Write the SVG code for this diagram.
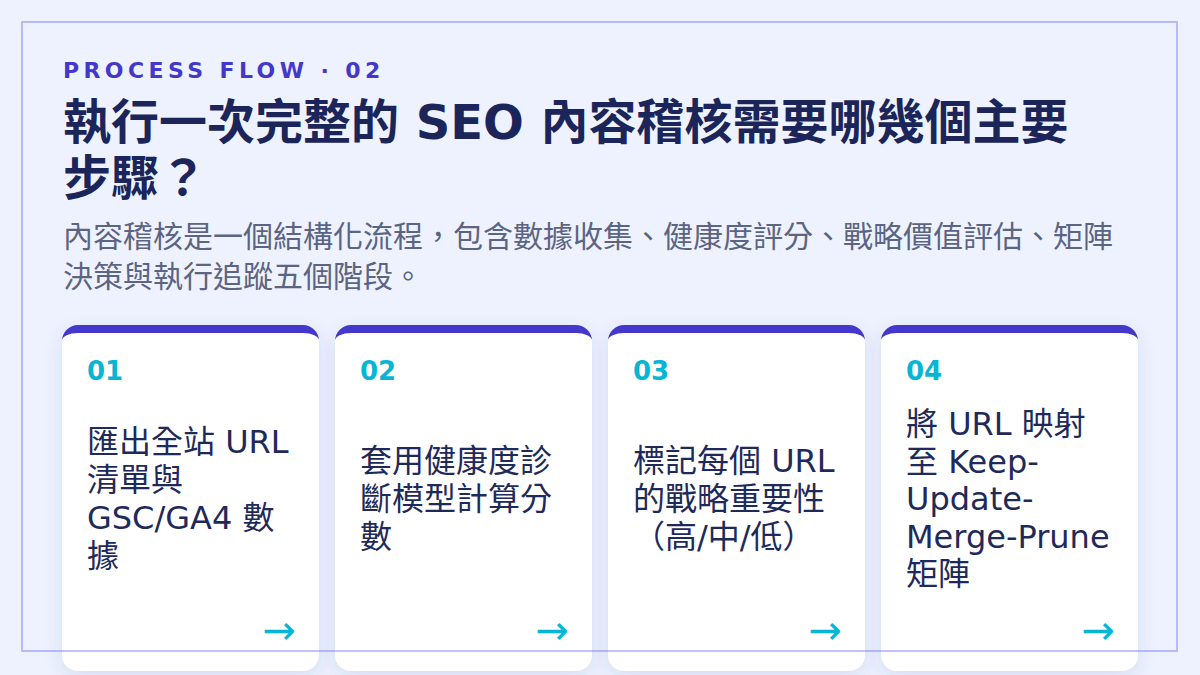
<svg xmlns="http://www.w3.org/2000/svg" width="1200" height="675" viewBox="0 0 1200 675">
  <defs>
    <filter id="shadow" x="-20%" y="-20%" width="140%" height="140%">
      <feDropShadow dx="0" dy="6" stdDeviation="9" flood-color="#3b3f9e" flood-opacity="0.12"/>
    </filter>
    <style>
      .eyebrow { font-family: "DejaVu Sans", "Noto Sans CJK TC", sans-serif; font-weight: 700; font-size: 22px; letter-spacing: 4.4px; fill: #4338ca; }
      .title { font-family: "DejaVu Sans", "Noto Sans CJK TC", sans-serif; font-weight: 700; font-size: 48px; fill: #1b2559; }
      .sub { font-family: "DejaVu Sans", "Noto Sans CJK TC", sans-serif; font-size: 30px; fill: #5b6483; }
      .card { fill: #ffffff; }
      .band { fill: #4338ca; }
      .num { font-family: "DejaVu Sans", sans-serif; font-weight: 700; font-size: 26px; fill: #06b6d4; }
      .body { font-family: "DejaVu Sans", "Noto Sans CJK TC", sans-serif; font-size: 32px; fill: #1e2a5a; }
      .arrow { font-family: "DejaVu Sans", sans-serif; font-size: 40px; fill: #06b6d4; text-anchor: end; }
      .frame { fill: none; stroke: #6366f1; stroke-opacity: 0.4; stroke-width: 2; }
    </style>
  </defs>
  <rect width="1200" height="675" fill="#eef2fe"/>

  <g id="header">
    <text class="eyebrow" x="63" y="78">PROCESS FLOW · 02</text>
    <text class="title" x="63" y="139">執行一次完整的 SEO 內容稽核需要哪幾個主要</text>
    <text class="title" x="63" y="195">步驟？</text>
    <text class="sub" x="63" y="247">內容稽核是一個結構化流程，包含數據收集、健康度評分、戰略價值評估、矩陣</text>
    <text class="sub" x="63" y="287">決策與執行追蹤五個階段。</text>
  </g>

  <g id="step1">
    <g filter="url(#shadow)">
      <rect class="card" x="62" y="325" width="257" height="346" rx="16"/>
    </g>
    <path class="band" d="M62,341 A16,16 0 0 1 78,325 H303 A16,16 0 0 1 319,341 A16,8 0 0 0 303,333 H78 A16,8 0 0 0 62,341 Z"/>
    <text class="num" x="87" y="380">01</text>
    <text class="body" x="87" y="453">匯出全站 URL</text>
    <text class="body" x="87" y="491">清單與</text>
    <text class="body" x="87" y="529">GSC/GA4 數</text>
    <text class="body" x="87" y="567">據</text>
    <text class="arrow" x="296" y="644">→</text>
  </g>

  <g id="step2">
    <g filter="url(#shadow)">
      <rect class="card" x="335" y="325" width="257" height="346" rx="16"/>
    </g>
    <path class="band" d="M335,341 A16,16 0 0 1 351,325 H576 A16,16 0 0 1 592,341 A16,8 0 0 0 576,333 H351 A16,8 0 0 0 335,341 Z"/>
    <text class="num" x="360" y="380">02</text>
    <text class="body" x="360" y="472">套用健康度診</text>
    <text class="body" x="360" y="510">斷模型計算分</text>
    <text class="body" x="360" y="548">數</text>
    <text class="arrow" x="569" y="644">→</text>
  </g>

  <g id="step3">
    <g filter="url(#shadow)">
      <rect class="card" x="608" y="325" width="257" height="346" rx="16"/>
    </g>
    <path class="band" d="M608,341 A16,16 0 0 1 624,325 H849 A16,16 0 0 1 865,341 A16,8 0 0 0 849,333 H624 A16,8 0 0 0 608,341 Z"/>
    <text class="num" x="633" y="380">03</text>
    <text class="body" x="633" y="472">標記每個 URL</text>
    <text class="body" x="633" y="510">的戰略重要性</text>
    <text class="body" x="633" y="548">（高/中/低）</text>
    <text class="arrow" x="842" y="644">→</text>
  </g>

  <g id="step4">
    <g filter="url(#shadow)">
      <rect class="card" x="881" y="325" width="257" height="346" rx="16"/>
    </g>
    <path class="band" d="M881,341 A16,16 0 0 1 897,325 H1122 A16,16 0 0 1 1138,341 A16,8 0 0 0 1122,333 H897 A16,8 0 0 0 881,341 Z"/>
    <text class="num" x="906" y="380">04</text>
    <text class="body" x="906" y="435">將 URL 映射</text>
    <text class="body" x="906" y="472.5">至 Keep-</text>
    <text class="body" x="906" y="510">Update-</text>
    <text class="body" x="906" y="547.5">Merge-Prune</text>
    <text class="body" x="906" y="585">矩陣</text>
    <text class="arrow" x="1115" y="644">→</text>
  </g>

  <g id="connectors"></g>

  <rect class="frame" x="22" y="22" width="1155" height="629"/>
</svg>
